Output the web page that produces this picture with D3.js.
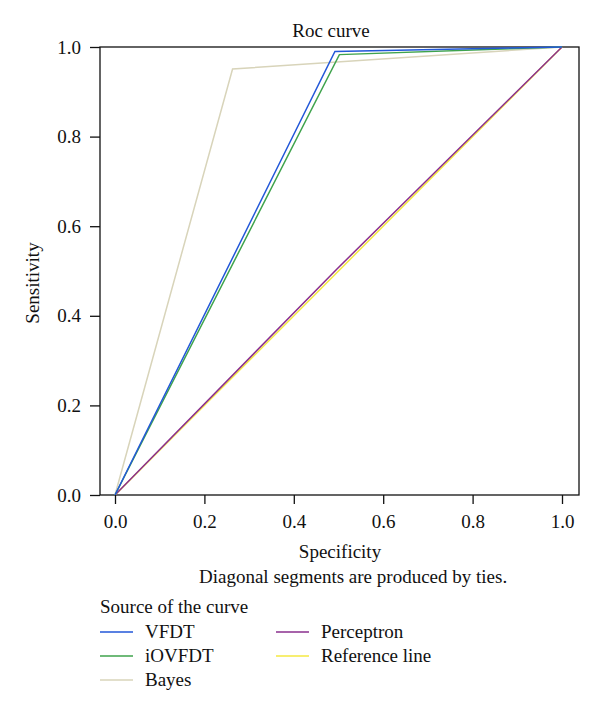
<!DOCTYPE html>
<html><head><meta charset="utf-8">
<script src="https://cdn.jsdelivr.net/npm/d3@7/dist/d3.min.js"></script>
<style>body{margin:0;background:#fff}svg text{font-family:"Liberation Serif",serif;fill:#111}</style>
</head><body>
<svg id="c" width="600" height="714"></svg>
<script>
const seriesNames = ["VFDT","iOVFDT","Bayes","Perceptron","Reference line"];
const seriesColors = ["#2257d8","#3fa34d","#d8d4ba","#8a2f8e","#f4e842"];
const vfdtPts = [[0,0],[0.492,0.990],[1,1]];
const iovfdtPts = [[0,0],[0.502,0.983],[1,1]];
const bayesPts = [[0,0],[0.263,0.951],[1,1]];
const perceptronPts = [[0,0],[0.496,0.504],[1,1]];
const referencePts = [[0,0],[1,1]];
const tickValues = [0,0.2,0.4,0.6,0.8,1.0];

const FS = 19;
const svg = d3.select("#c");
const x = d3.scaleLinear().domain([0,1]).range([115,562]);
const y = d3.scaleLinear().domain([0,1]).range([495,47]);

svg.append("rect").attr("x",100).attr("y",47).attr("width",479).attr("height",448)
  .attr("fill","none").attr("stroke","#111").attr("stroke-width",1.3);

const line = d3.line().x(d=>x(d[0])).y(d=>y(d[1]));
const data = [referencePts, perceptronPts, bayesPts, iovfdtPts, vfdtPts];
const cols = [seriesColors[4], seriesColors[3], seriesColors[2], seriesColors[1], seriesColors[0]];
data.forEach((pts,i)=>{
  svg.append("path").attr("d",line(pts)).attr("fill","none").attr("stroke",cols[i]).attr("stroke-width",1.5);
});

const xAxis = d3.axisBottom(x).tickValues(tickValues).tickFormat(d3.format(".1f")).tickSize(9).tickPadding(11);
const gx = svg.append("g").attr("transform","translate(0,495)").call(xAxis);
gx.select(".domain").remove();
gx.selectAll("line").attr("stroke","#111").attr("stroke-width",1.3);
gx.selectAll("text").attr("font-size",FS).style("font-family","Liberation Serif");

const yAxis = d3.axisLeft(y).tickValues(tickValues).tickFormat(d3.format(".1f")).tickSize(10).tickPadding(9);
const gy = svg.append("g").attr("transform","translate(100,0)").call(yAxis);
gy.select(".domain").remove();
gy.selectAll("line").attr("stroke","#111").attr("stroke-width",1.3);
gy.selectAll("text").attr("font-size",FS).style("font-family","Liberation Serif");

svg.append("text").attr("x",331).attr("y",37).attr("text-anchor","middle").attr("font-size",FS).text("Roc curve");
svg.append("text").attr("x",340).attr("y",558).attr("text-anchor","middle").attr("font-size",FS).text("Specificity");
svg.append("text").attr("transform","translate(39,283) rotate(-90)").attr("text-anchor","middle").attr("font-size",FS).text("Sensitivity");
svg.append("text").attr("x",199).attr("y",583).attr("font-size",FS).text("Diagonal segments are produced by ties.");

svg.append("text").attr("x",100).attr("y",613).attr("font-size",FS).text("Source of the curve");
const legPos = [[100,632],[100,656],[100,680],[276,632],[276,656]];
seriesNames.forEach((n,i)=>{
  const [lx,ly] = legPos[i];
  svg.append("line").attr("x1",lx).attr("x2",lx+33).attr("y1",ly).attr("y2",ly).attr("stroke",seriesColors[i]).attr("stroke-width",1.5);
  svg.append("text").attr("x",lx+45).attr("y",ly+6).attr("font-size",FS).text(n);
});
</script>
</body></html>
